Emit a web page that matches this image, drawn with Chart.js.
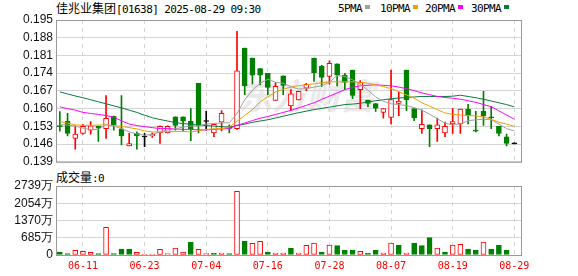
<!DOCTYPE html>
<html>
<head>
<meta charset="utf-8">
<script src="https://cdn.jsdelivr.net/npm/chart.js@4.4.0/dist/chart.umd.min.js"></script>
<style>
  body { margin: 0; background: #fff; width: 578px; height: 276px; overflow: hidden; position: relative; font-family: "Liberation Sans", Arial, sans-serif; }
  .mono { font-family: "DejaVu Sans Mono", monospace; font-size: 11px; letter-spacing: -0.6px; }
  .cjk { font-family: "Noto Sans CJK SC", sans-serif; font-size: 12px; }
  #title { position: absolute; left: 56px; top: 0px; color: #000; white-space: nowrap; line-height: 16px; }
  .leg { position: absolute; top: 1px; line-height: 16px; color: #000; white-space: nowrap; }
  .leg i { display: inline-block; width: 5px; height: 4px; margin-left: 3px; vertical-align: 3px; }
  #volTitle { position: absolute; left: 56px; top: 169px; color: #000; line-height: 16px; white-space: nowrap; }
  #wm { position: absolute; left: 238px; top: 68px; font-family: "Noto Sans CJK SC", sans-serif; font-size: 35px; font-weight: bold; font-style: italic; color: #e9e9e9; letter-spacing: -1px; }
  canvas { position: absolute; left: 0; }
  #k { top: 0; }
  #v { top: 170px; }
</style>
</head>
<body>
<div id="wm">东方财富</div>
<div id="title"><span class="cjk">佳兆业集团</span><span class="mono">[01638] 2025-08-29 09:30</span></div>
<div class="leg mono" style="left:338px">5PMA<i style="background:#a0a0a0"></i></div>
<div class="leg mono" style="left:380px">10PMA<i style="background:#f0a000"></i></div>
<div class="leg mono" style="left:425px">20PMA<i style="background:#ff00ff"></i></div>
<div class="leg mono" style="left:471px">30PMA<i style="background:#0b7a3e"></i></div>
<div id="volTitle"><span class="cjk">成交量</span><span class="mono">:0</span></div>
<canvas id="k" width="578" height="172"></canvas>
<canvas id="v" width="578" height="106"></canvas>
<script>
// daily candles, 06-06 .. 08-29
const openP = [0.1531, 0.1550, 0.1482, 0.1502, 0.1515, 0.1530, 0.1521, 0.1570, 0.1520, 0.1453,
  0.1502, 0.1488, 0.1492, 0.1504, 0.1504, 0.1568, 0.1568, 0.1550, 0.1700, 0.1549,
  0.1504, 0.1547, 0.1525, 0.1521, 0.1839, 0.1800, 0.1758, 0.1739, 0.1632, 0.1730,
  0.1611, 0.1634, 0.1681, 0.1800, 0.1768, 0.1727, 0.1777, 0.1732, 0.1752, 0.1675,
  0.1634, 0.1620, 0.1585, 0.1565, 0.1621, 0.1752, 0.1600, 0.1521, 0.1536, 0.1521,
  0.1504, 0.1540, 0.1540, 0.1598, 0.1512, 0.1589, 0.1568, 0.1530, 0.1489, 0.1461];
const highP = [0.1588, 0.1581, 0.1532, 0.1538, 0.1549, 0.1531, 0.1652, 0.1571, 0.1652, 0.1502,
  0.1508, 0.1502, 0.1504, 0.1532, 0.1532, 0.1568, 0.1568, 0.1600, 0.1700, 0.1589,
  0.1538, 0.1592, 0.1536, 0.1905, 0.1839, 0.1800, 0.1758, 0.1739, 0.1703, 0.1730,
  0.1675, 0.1668, 0.1700, 0.1800, 0.1771, 0.1789, 0.1777, 0.1739, 0.1752, 0.1711,
  0.1634, 0.1620, 0.1600, 0.1752, 0.1665, 0.1752, 0.1600, 0.1595, 0.1536, 0.1563,
  0.1547, 0.1600, 0.1598, 0.1617, 0.1589, 0.1668, 0.1608, 0.1530, 0.1499, 0.1461];
const lowP = [0.1511, 0.1492, 0.1440, 0.1499, 0.1499, 0.1470, 0.1482, 0.1515, 0.1457, 0.1453,
  0.1440, 0.1450, 0.1486, 0.1463, 0.1504, 0.1515, 0.1512, 0.1473, 0.1504, 0.1515,
  0.1489, 0.1512, 0.1504, 0.1518, 0.1655, 0.1698, 0.1694, 0.1655, 0.1632, 0.1655,
  0.1592, 0.1634, 0.1671, 0.1707, 0.1688, 0.1697, 0.1690, 0.1675, 0.1639, 0.1600,
  0.1608, 0.1589, 0.1562, 0.1540, 0.1572, 0.1592, 0.1552, 0.1502, 0.1450, 0.1470,
  0.1489, 0.1502, 0.1502, 0.1540, 0.1508, 0.1534, 0.1521, 0.1492, 0.1453, 0.1461];
const closeP = [0.1529, 0.1502, 0.1499, 0.1530, 0.1532, 0.1523, 0.1562, 0.1536, 0.1492, 0.1462,
  0.1492, 0.1488, 0.1499, 0.1530, 0.1530, 0.1534, 0.1550, 0.1521, 0.1534, 0.1549,
  0.1538, 0.1581, 0.1522, 0.1749, 0.1690, 0.1732, 0.1732, 0.1684, 0.1688, 0.1692,
  0.1658, 0.1668, 0.1696, 0.1742, 0.1723, 0.1779, 0.1732, 0.1703, 0.1652, 0.1703,
  0.1621, 0.1602, 0.1600, 0.1636, 0.1630, 0.1634, 0.1563, 0.1538, 0.1521, 0.1536,
  0.1530, 0.1549, 0.1598, 0.1572, 0.1511, 0.1572, 0.1563, 0.1502, 0.1463, 0.1461];

// moving averages as drawn
const ma5 = [0.1537, 0.1535, 0.1531, 0.1523, 0.1517, 0.1518, 0.1537, 0.1531, 0.1521, 0.1508,
  0.1500, 0.1495, 0.1498, 0.1508, 0.1516, 0.1521, 0.1527, 0.1531, 0.1531, 0.1539,
  0.1541, 0.1544, 0.1544, 0.1581, 0.1635, 0.1673, 0.1700, 0.1716, 0.1704, 0.1700,
  0.1687, 0.1677, 0.1679, 0.1685, 0.1691, 0.1704, 0.1731, 0.1727, 0.1714, 0.1696,
  0.1673, 0.1646, 0.1629, 0.1619, 0.1616, 0.1612, 0.1604, 0.1594, 0.1578, 0.1560,
  0.1543, 0.1535, 0.1540, 0.1552, 0.1556, 0.1558, 0.1556, 0.1539, 0.1521, 0.1512];
const ma10 = [0.1549, 0.1543, 0.1536, 0.1534, 0.1534, 0.1535, 0.1536, 0.1533, 0.1530, 0.1525,
  0.1520, 0.1512, 0.1508, 0.1508, 0.1510, 0.1510, 0.1510, 0.1508, 0.1512, 0.1518,
  0.1520, 0.1521, 0.1527, 0.1550, 0.1573, 0.1596, 0.1627, 0.1646, 0.1666, 0.1677,
  0.1685, 0.1691, 0.1694, 0.1698, 0.1702, 0.1706, 0.1706, 0.1706, 0.1706, 0.1704,
  0.1700, 0.1694, 0.1687, 0.1679, 0.1667, 0.1654, 0.1641, 0.1623, 0.1610, 0.1596,
  0.1583, 0.1577, 0.1575, 0.1573, 0.1571, 0.1568, 0.1558, 0.1546, 0.1539, 0.1530];
const ma20 = [0.1607, 0.1600, 0.1594, 0.1585, 0.1581, 0.1577, 0.1573, 0.1566, 0.1552, 0.1539,
  0.1533, 0.1529, 0.1525, 0.1521, 0.1521, 0.1520, 0.1518, 0.1518, 0.1516, 0.1516,
  0.1518, 0.1520, 0.1521, 0.1534, 0.1543, 0.1553, 0.1562, 0.1569, 0.1577, 0.1585,
  0.1593, 0.1603, 0.1613, 0.1623, 0.1637, 0.1649, 0.1662, 0.1675, 0.1684, 0.1690,
  0.1692, 0.1694, 0.1692, 0.1690, 0.1685, 0.1679, 0.1671, 0.1662, 0.1655, 0.1648,
  0.1644, 0.1641, 0.1637, 0.1631, 0.1625, 0.1616, 0.1608, 0.1591, 0.1575, 0.1558];
const ma30 = [0.1666, 0.1658, 0.1650, 0.1643, 0.1635, 0.1627, 0.1619, 0.1611, 0.1603, 0.1594,
  0.1585, 0.1574, 0.1564, 0.1557, 0.1551, 0.1545, 0.1541, 0.1538, 0.1535, 0.1533,
  0.1531, 0.1529, 0.1527, 0.1533, 0.1539, 0.1546, 0.1551, 0.1556, 0.1563, 0.1570,
  0.1577, 0.1584, 0.1590, 0.1596, 0.1601, 0.1606, 0.1611, 0.1616, 0.1618, 0.1621,
  0.1626, 0.1631, 0.1635, 0.1639, 0.1642, 0.1644, 0.1646, 0.1648, 0.1648, 0.1648,
  0.1648, 0.1649, 0.1653, 0.1648, 0.1643, 0.1637, 0.1630, 0.1623, 0.1616, 0.1607];

// volume in 万 shares, 1 = up day (red), 0 = down day (green)
const vol = [119, 53, 185, 146, 106, 53, 1099, 53, 238, 238,
  106, 40, 40, 225, 53, 278, 119, 516, 225, 53,
  79, 79, 53, 2529, 556, 463, 543, 119, 79, 79,
  278, 79, 385, 476, 119, 397, 370, 198, 198, 146,
  79, 198, 79, 476, 397, 79, 476, 370, 688, 278,
  119, 397, 423, 238, 198, 516, 238, 397, 198, 0];
const volUp = [0, 0, 1, 1, 1, 0, 1, 0, 0, 0,
  1, 1, 1, 1, 1, 1, 1, 0, 1, 1,
  0, 1, 0, 1, 0, 1, 1, 0, 1, 1,
  0, 1, 1, 1, 0, 1, 0, 0, 0, 1,
  0, 0, 1, 1, 0, 1, 0, 0, 0, 1,
  0, 1, 1, 0, 0, 1, 0, 0, 0, 0];

const tickIdx = [3, 11, 19, 27, 35, 43, 51, 59];
const tickLabels = ['06-11', '06-23', '07-04', '07-16', '07-28', '08-07', '08-19', '08-29'];
const priceTicks = [0.139, 0.146, 0.153, 0.160, 0.167, 0.174, 0.181, 0.188, 0.195];
const volTicks = [0, 685, 1370, 2054, 2739];

const RED = '#ff0000';
const GREEN = '#008000';
const BLACK = '#000000';
const GRID = '#d4d4d4';

const candleColor = i => closeP[i] > openP[i] ? RED : (closeP[i] < openP[i] ? GREEN : BLACK);
const bodyFill = i => closeP[i] > openP[i] ? '#ffffff' : candleColor(i);

// grey frame round the plot area
const framePlugin = {
  id: 'frame',
  afterDraw(chart) {
    const {ctx, chartArea: a} = chart;
    ctx.save();
    ctx.strokeStyle = '#999999';
    ctx.lineWidth = 1;
    ctx.strokeRect(a.left + 0.5, a.top + 0.5, a.right - a.left - 1, a.bottom - a.top);
    ctx.restore();
  }
};

function xScale(showLabels) {
  return {
    type: 'linear',
    min: -0.5,
    max: 60,
    offset: false,
    afterBuildTicks: axis => { axis.ticks = tickIdx.map(v => ({value: v})); },
    afterFit: axis => { axis.height = showLabels ? 21 : 0; },
    grid: { color: GRID, drawTicks: false, offset: false },
    border: { display: false, dash: [4, 4] },
    ticks: {
      display: showLabels,
      autoSkip: false,
      maxRotation: 0,
      padding: 5,
      color: RED,
      font: { family: 'DejaVu Sans Mono', size: 10 },
      callback: v => tickLabels[tickIdx.indexOf(v)]
    }
  };
}

function yScale(min, max, ticks, fmt) {
  return {
    min: min,
    max: max,
    afterBuildTicks: axis => { axis.ticks = ticks.map(v => ({value: v})); },
    afterFit: axis => { axis.width = 56; },
    grid: { color: GRID, drawTicks: false },
    border: { display: false },
    ticks: {
      autoSkip: false,
      padding: 3,
      color: '#111',
      font: { family: 'Liberation Sans', size: 12 },
      callback: fmt
    }
  };
}

const idx = closeP.map((_, i) => i);
const maLine = (arr, color) => ({
  type: 'line',
  order: 0,
  data: arr.map((v, i) => ({x: i, y: v})),
  borderColor: color,
  borderWidth: 1,
  pointRadius: 0,
  tension: 0,
  fill: false
});

new Chart(document.getElementById('k'), {
  type: 'bar',
  data: {
    datasets: [
      maLine(ma5, '#a0a0a0'),
      maLine(ma10, '#f0a000'),
      maLine(ma20, '#ff00ff'),
      maLine(ma30, '#0b7a3e'),
      {
        order: 1,
        data: idx.map(i => ({x: i, y: [openP[i], closeP[i]]})),
        backgroundColor: c => bodyFill(c.dataIndex),
        borderColor: c => candleColor(c.dataIndex),
        borderWidth: 1,
        borderSkipped: false,
        barThickness: 5,
        minBarLength: 1,
        grouped: false
      },
      {
        order: 2,
        data: idx.map(i => ({x: i, y: [lowP[i], highP[i]]})),
        backgroundColor: c => candleColor(c.dataIndex),
        borderWidth: 0,
        barThickness: 1,
        minBarLength: 1,
        grouped: false
      }
    ]
  },
  options: {
    responsive: false,
    animation: false,
    layout: { padding: { top: 20, right: 56, bottom: 6, left: 0 } },
    plugins: { legend: { display: false }, tooltip: { enabled: false } },
    scales: {
      x: xScale(false),
      y: yScale(0.139, 0.195, priceTicks, v => v.toFixed(3))
    }
  },
  plugins: [framePlugin]
});

new Chart(document.getElementById('v'), {
  type: 'bar',
  data: {
    datasets: [{
      data: idx.map(i => ({x: i, y: vol[i]})),
      backgroundColor: c => volUp[c.dataIndex] ? '#ffffff' : GREEN,
      borderColor: c => volUp[c.dataIndex] ? RED : GREEN,
      borderWidth: 1,
      borderSkipped: false,
      barThickness: 5,
      grouped: false
    }]
  },
  options: {
    responsive: false,
    animation: false,
    layout: { padding: { top: 16, right: 56, bottom: 0, left: 0 } },
    plugins: { legend: { display: false }, tooltip: { enabled: false } },
    scales: {
      x: xScale(true),
      y: yScale(0, 2739, volTicks, v => v === 0 ? '0' : v + '万')
    }
  },
  plugins: [framePlugin]
});
</script>
</body>
</html>
